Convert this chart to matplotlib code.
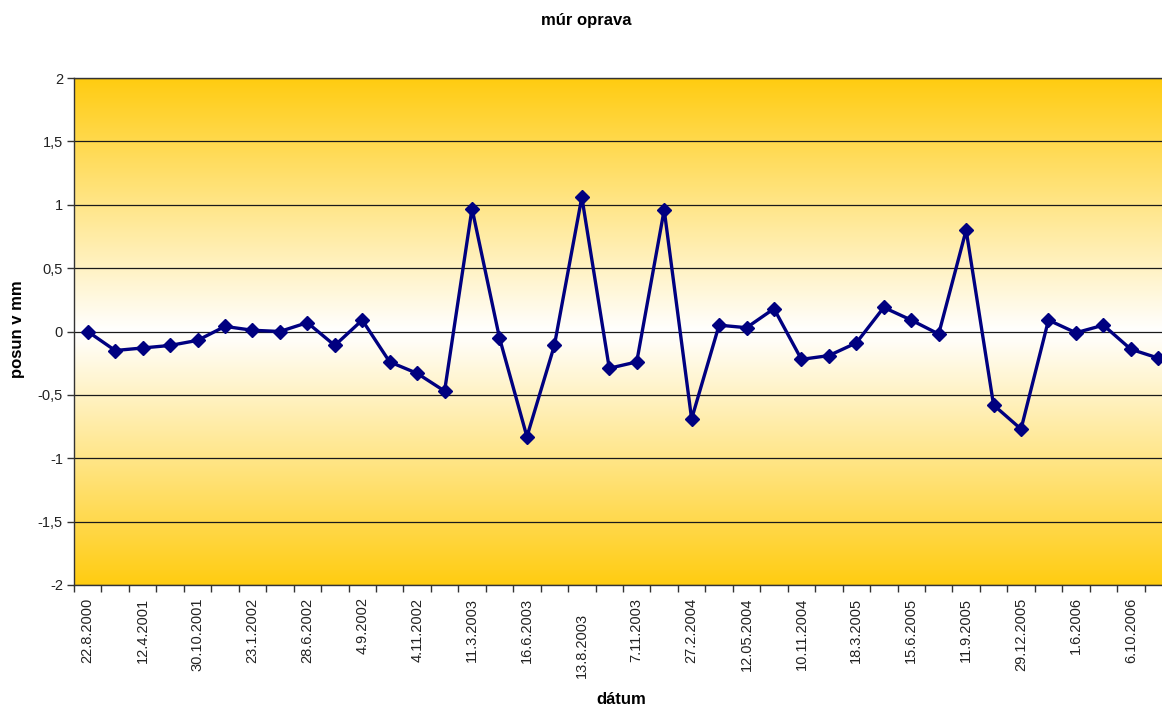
import numpy as np
import matplotlib
matplotlib.use("Agg")
import matplotlib.pyplot as plt
from matplotlib.colors import LinearSegmentedColormap

# Measurement dates (every second category is labelled on the axis)
date_labels = [
    "22.8.2000", "12.4.2001", "30.10.2001", "23.1.2002", "28.6.2002",
    "4.9.2002", "4.11.2002", "11.3.2003", "16.6.2003", "13.8.2003",
    "7.11.2003", "27.2.2004", "12.05.2004", "10.11.2004", "18.3.2005",
    "15.6.2005", "11.9.2005", "29.12.2005", "1.6.2006", "6.10.2006",
]

# Displacement in mm for each measurement
posun = [
    0.00, -0.15, -0.13, -0.11, -0.07, 0.04, 0.01, 0.00, 0.07, -0.11,
    0.09, -0.24, -0.33, -0.47, 0.97, -0.05, -0.83, -0.11, 1.06, -0.29,
    -0.24, 0.96, -0.69, 0.05, 0.03, 0.18, -0.22, -0.19, -0.09, 0.19,
    0.09, -0.02, 0.80, -0.58, -0.77, 0.09, -0.01, 0.05, -0.14, -0.21,
]

y_ticks = [-2, -1.5, -1, -0.5, 0, 0.5, 1, 1.5, 2]
y_tick_labels = ["-2", "-1,5", "-1", "-0,5", "0", "0,5", "1", "1,5", "2"]

plt.rcParams['font.family'] = ['Liberation Sans', 'DejaVu Sans']

W, H = 1162, 708
fig = plt.figure(figsize=(W / 100, H / 100), dpi=100)
fig.patch.set_facecolor("white")

# plot area runs past the right edge of the canvas
ax = fig.add_axes([74 / W, (H - 585) / H, 1098 / W, 507 / H])

n = len(posun)
x = np.arange(n)

# gold-to-white-to-gold background
grad = np.abs(np.linspace(-1, 1, 512))[:, None]
cmap = LinearSegmentedColormap.from_list("bg", ["#FFFFFF", "#FFCC11"])
ax.imshow(grad, cmap=cmap, aspect="auto", extent=[0, 1, 0, 1],
          transform=ax.transAxes, zorder=0, interpolation="bilinear")

ax.set_xlim(-0.5, n - 0.5)
ax.set_ylim(-2, 2)

for yv in y_ticks:
    ax.axhline(yv, color="#1a1a1a", lw=0.9, zorder=1)

ax.plot(x, posun, color="#000080", lw=2.4, marker="D", ms=6.8,
        mfc="#000080", mec="#000080", mew=1, zorder=3)

for side in ("left", "bottom", "top"):
    ax.spines[side].set_color("#333333")
    ax.spines[side].set_linewidth(1)
ax.spines["right"].set_visible(False)

ax.set_yticks(y_ticks)
ax.set_yticklabels(y_tick_labels, fontsize=10.5, color="#222222")
ax.tick_params(axis="y", length=5, width=1, pad=3, color="#333333")

ax.set_xticks(x[::2])
ax.set_xticklabels(date_labels, rotation=90, fontsize=10.5, va="top",
                   ha="center", color="#222222")
ax.tick_params(axis="x", which="major", length=0, pad=9)
ax.set_xticks(np.arange(-0.5, n, 1.0), minor=True)
ax.tick_params(axis="x", which="minor", length=5, width=1, color="#333333")

# the 13.8.2003 label sits a little lower
ax.xaxis.get_major_ticks()[9].set_pad(20)

fig.text(586 / W, 1 - 21 / H, "múr oprava", ha="center", va="center",
         fontsize=12, fontweight="bold")
fig.text(621 / W, 1 - 700 / H, "dátum", ha="center", va="center",
         fontsize=12, fontweight="bold")
fig.text(18 / W, 1 - 329 / H, "posun v mm", ha="center", va="center",
         rotation=90, fontsize=12, fontweight="bold")

fig.savefig("out.png", dpi=100)
